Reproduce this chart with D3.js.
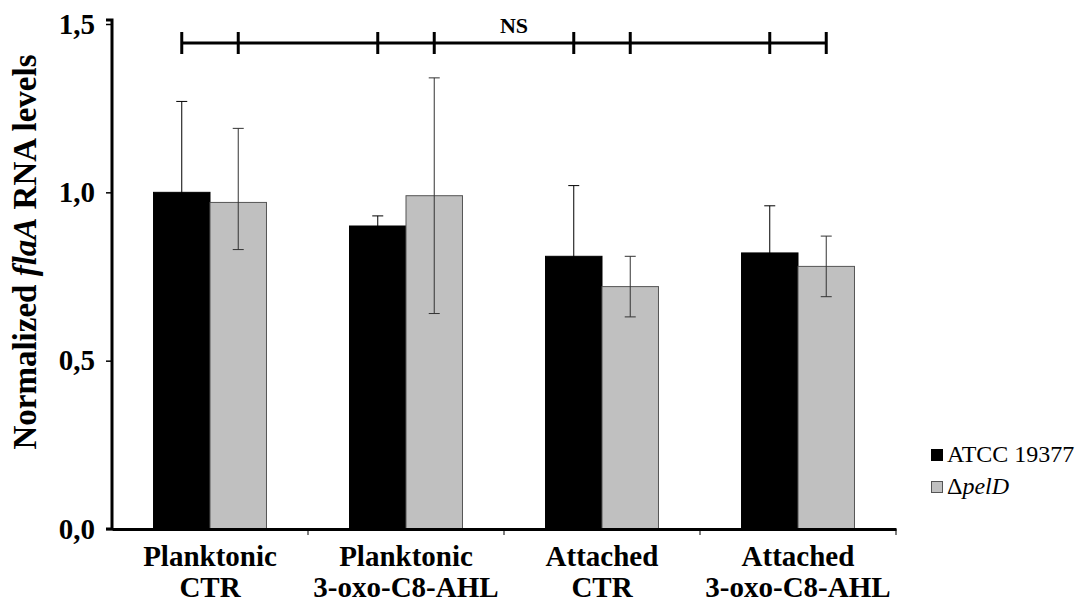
<!DOCTYPE html>
<html>
<head>
<meta charset="utf-8">
<script src="https://cdn.jsdelivr.net/npm/d3@7"></script>
<style>
  html, body { margin: 0; padding: 0; background: #fff; }
  svg { display: block; font-family: "Liberation Serif", "Times New Roman", serif; }
</style>
</head>
<body>
<svg id="chart" width="1080" height="603"></svg>
<script>
// Groups along the x axis (two text lines each)
const categories = ["Planktonic|CTR", "Planktonic|3-oxo-C8-AHL", "Attached|CTR", "Attached|3-oxo-C8-AHL"];
const seriesNames = ["ATCC 19377", "pelD"];

// Mean normalized flaA RNA levels
const wildType = [1.00, 0.90, 0.81, 0.82];
const pelD = [0.97, 0.99, 0.72, 0.78];

// Error bar half-widths (upper / lower)
const wildTypeErrUp = [0.27, 0.03, 0.21, 0.14];
const wildTypeErrDown = [0.27, 0.03, 0.21, 0.14];
const pelDErrUp = [0.22, 0.35, 0.09, 0.09];
const pelDErrDown = [0.14, 0.35, 0.09, 0.09];

const yTicks = [0, 0.5, 1.0, 1.5];
const yTickLabels = ["0,0", "0,5", "1,0", "1,5"];
const bracketLabel = "NS";

const FONT = "Liberation Serif, Times New Roman, serif";
const svg = d3.select("#chart");
const plotLeft = 112, plotRight = 896, plotBottom = 529, plotTop = 24;

const x0 = d3.scaleBand().domain(categories).range([plotLeft, plotRight]).padding(0);
const x1 = d3.scaleBand().domain(seriesNames).range([0, x0.bandwidth()])
  .paddingInner(0).paddingOuter(0.735);
const y = d3.scaleLinear().domain([0, 1.5]).range([plotBottom, plotTop]);

const fills = { "ATCC 19377": "#000000", "pelD": "#c0c0c0" };

const rows = categories.map((c, i) => ({
  cat: c,
  bars: [
    { s: "ATCC 19377", v: wildType[i], up: wildTypeErrUp[i], down: wildTypeErrDown[i] },
    { s: "pelD", v: pelD[i], up: pelDErrUp[i], down: pelDErrDown[i] }
  ]
}));

// Bars
const g = svg.append("g");
rows.forEach(r => {
  r.bars.forEach(b => {
    g.append("rect")
      .attr("x", x0(r.cat) + x1(b.s))
      .attr("y", y(b.v))
      .attr("width", x1.bandwidth())
      .attr("height", y(0) - y(b.v))
      .attr("fill", fills[b.s])
      .attr("stroke", b.s === "pelD" ? "#555" : "#000")
      .attr("stroke-width", 1);
  });
});

// Error bars
const capHalf = 5.5;
rows.forEach(r => {
  r.bars.forEach(b => {
    const cx = x0(r.cat) + x1(b.s) + x1.bandwidth() / 2;
    const yHi = y(b.v + b.up), yLo = y(b.v - b.down);
    const col = b.s === "pelD" ? "#333" : "#000";
    g.append("line").attr("x1", cx).attr("x2", cx).attr("y1", yHi).attr("y2", yLo)
      .attr("stroke", col).attr("stroke-width", 1);
    [yHi, yLo].forEach(yy => {
      g.append("line").attr("x1", cx - capHalf).attr("x2", cx + capHalf)
        .attr("y1", yy).attr("y2", yy).attr("stroke", col).attr("stroke-width", 1);
    });
  });
});

// Y axis
const yAxis = d3.axisLeft(y).tickValues(yTicks)
  .tickFormat((d, i) => yTickLabels[i]).tickSize(6).tickPadding(11);
const ya = svg.append("g").attr("transform", `translate(${plotLeft},0)`).call(yAxis);
ya.attr("font-family", FONT);
ya.select(".domain").attr("stroke", "#000").attr("stroke-width", 3)
  .attr("d", `M-6,${y(1.5) - 4}H0V${plotBottom}H-6`);
ya.selectAll(".tick line").attr("stroke", "#000").attr("stroke-width", 1.5);
ya.selectAll(".tick text")
  .attr("font-family", FONT)
  .attr("font-size", 29).attr("font-weight", "bold").attr("fill", "#000");

// X axis
const xAxis = d3.axisBottom(x0).tickValues([]).tickSizeOuter(0);
const xa = svg.append("g").attr("transform", `translate(0,${plotBottom})`).call(xAxis);
xa.attr("font-family", FONT);
xa.select(".domain").attr("stroke", "#000").attr("stroke-width", 3);
// small separators between groups
x0.domain().forEach(c => {
  const xx = x0(c) + x0.bandwidth();
  xa.append("line").attr("x1", xx).attr("x2", xx).attr("y1", 0).attr("y2", 6)
    .attr("stroke", "#000").attr("stroke-width", 1);
});
// category labels
x0.domain().forEach(c => {
  const parts = c.split("|");
  const cx = x0(c) + x0.bandwidth() / 2;
  const t = xa.append("text")
    .attr("x", cx)
    .attr("text-anchor", "middle")
    .attr("font-family", FONT)
    .attr("font-size", 29).attr("font-weight", "bold").attr("fill", "#000");
  t.append("tspan").attr("x", cx).attr("y", 37).text(parts[0]);
  t.append("tspan").attr("x", cx).attr("y", 68).text(parts[1]);
});

// Y axis title
const yt = svg.append("text")
  .attr("transform", "translate(36,252) rotate(-90)")
  .attr("text-anchor", "middle")
  .attr("font-family", FONT)
  .attr("font-size", 33).attr("font-weight", "bold").attr("fill", "#000");
yt.append("tspan").text("Normalized ");
yt.append("tspan").attr("font-style", "italic").text("flaA");
yt.append("tspan").text(" RNA levels");

// NS bracket across all bar centres
const centres = [];
rows.forEach(r => r.bars.forEach(b => centres.push(x0(r.cat) + x1(b.s) + x1.bandwidth() / 2)));
const by = 43;
svg.append("line").attr("x1", d3.min(centres)).attr("x2", d3.max(centres))
  .attr("y1", by).attr("y2", by).attr("stroke", "#000").attr("stroke-width", 3);
centres.forEach(cx => {
  svg.append("line").attr("x1", cx).attr("x2", cx).attr("y1", by - 11).attr("y2", by + 11)
    .attr("stroke", "#000").attr("stroke-width", 3);
});
svg.append("text").attr("x", (d3.min(centres) + d3.max(centres)) / 2 + 10).attr("y", 33)
  .attr("text-anchor", "middle").attr("font-family", FONT)
  .attr("font-size", 22).attr("font-weight", "bold")
  .attr("fill", "#000").text(bracketLabel);

// Legend
const lg = svg.append("g").attr("transform", "translate(931,449)");
lg.append("rect").attr("x", 0).attr("y", 0).attr("width", 12).attr("height", 12)
  .attr("fill", fills["ATCC 19377"]);
lg.append("text").attr("x", 16).attr("y", 13).attr("font-family", FONT)
  .attr("font-size", 24).attr("fill", "#000").text(seriesNames[0]);
lg.append("rect").attr("x", 0.5).attr("y", 32.5).attr("width", 11).attr("height", 11)
  .attr("fill", fills["pelD"]).attr("stroke", "#555").attr("stroke-width", 1);
const lt = lg.append("text").attr("x", 16).attr("y", 45).attr("font-family", FONT)
  .attr("font-size", 24).attr("fill", "#000");
lt.append("tspan").text("\u0394");
lt.append("tspan").attr("font-style", "italic").text(seriesNames[1]);
</script>
</body>
</html>
